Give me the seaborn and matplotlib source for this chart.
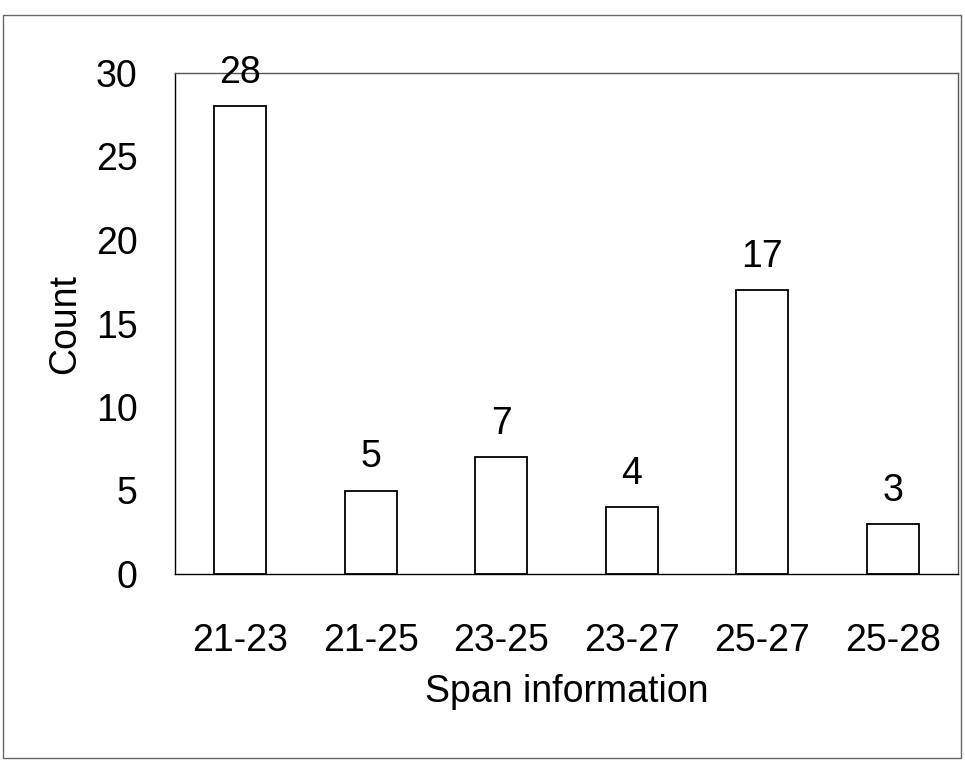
import matplotlib
matplotlib.use('Agg')
import matplotlib.pyplot as plt
import seaborn as sns
import pandas as pd
from matplotlib.patches import Rectangle

# data
spans = ['21-23', '21-25', '23-25', '23-27', '25-27', '25-28']
counts = [28, 5, 7, 4, 17, 3]

df = pd.DataFrame({'span': spans, 'count': counts})

sns.set_style('white')
plt.rcParams['font.family'] = ['Liberation Sans Narrow', 'Liberation Sans', 'DejaVu Sans']
plt.rcParams['text.color'] = 'black'
plt.rcParams['axes.labelcolor'] = 'black'
plt.rcParams['xtick.color'] = 'black'
plt.rcParams['ytick.color'] = 'black'

fig = plt.figure(figsize=(9.65, 7.62), dpi=100)
ax = fig.add_axes([175 / 965, 1 - 574 / 762, 783 / 965, 501 / 762])

sns.barplot(data=df, x='span', y='count', ax=ax, color='white',
            edgecolor='black', linewidth=1.3, width=0.4, saturation=1)

for i, v in enumerate(counts):
    ax.text(i, v + 0.9, str(v), ha='center', va='bottom', fontsize=27)

ax.set_xlim(-0.5, len(spans) - 0.5)
ax.set_ylim(0, 30)
ax.set_yticks(range(0, 31, 5))
ax.set_xlabel('Span information', fontsize=27, labelpad=11)
ax.set_ylabel('Count', fontsize=27, labelpad=9)

# ticks pointing inward; small marks at category boundaries
ax.tick_params(axis='y', direction='in', length=6, width=1, labelsize=27, pad=27)
ax.tick_params(axis='x', which='major', length=0, labelsize=27, pad=35)
ax.set_xticks([i + 0.5 for i in range(len(spans) - 1)], minor=True)
ax.tick_params(axis='x', which='minor', direction='in', length=10, width=1)

for s in ax.spines.values():
    s.set_visible(True)
    s.set_color('black')
    s.set_linewidth(1.0)
ax.spines['top'].set_color('#555555')
ax.spines['right'].set_color('#555555')

# outer frame around the figure
fig.patches.append(Rectangle((3 / 965, 4 / 762), 958 / 965, 743 / 762,
                             transform=fig.transFigure, fill=False,
                             edgecolor='#666666', linewidth=1.0))

fig.savefig('out.png', dpi=100)
